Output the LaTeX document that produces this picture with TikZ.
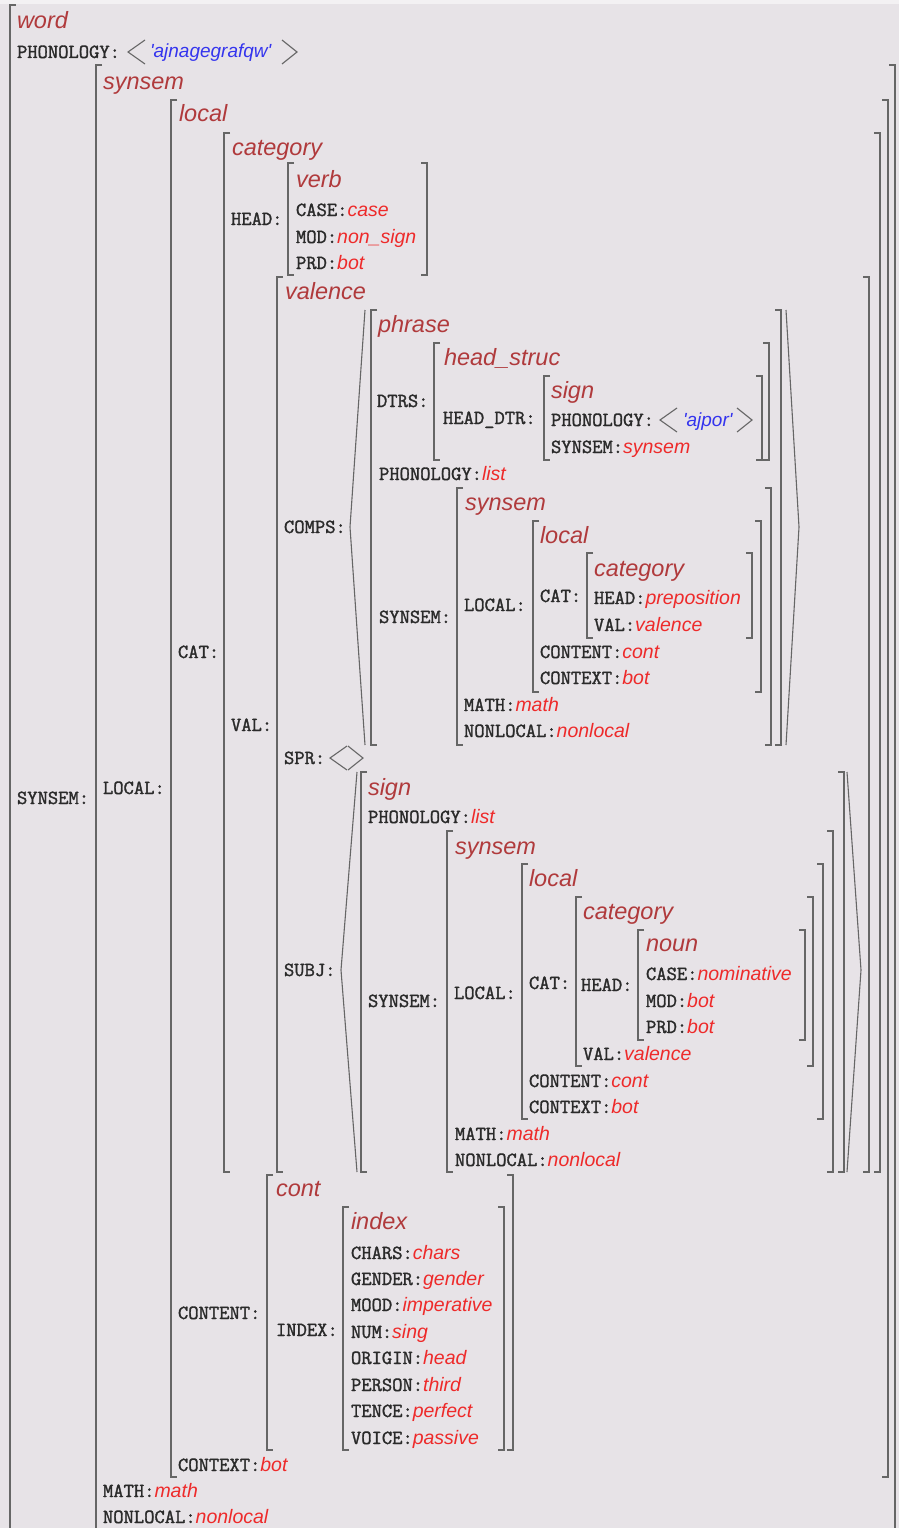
\documentclass[tikz,border=0pt]{standalone}
\usepackage{fontspec}
\newfontfamily\avmono{Latin Modern Mono}[FakeBold=1.6]
\newfontfamily\avsans{Liberation Sans}
\definecolor{bgc}{HTML}{E7E3E7}
\definecolor{topc}{HTML}{F3F1F3}
\definecolor{labc}{HTML}{2A2A2A}
\definecolor{typc}{HTML}{B03A3C}
\definecolor{valc}{HTML}{EE2A2A}
\definecolor{strc}{HTML}{3434EE}
\definecolor{brc}{HTML}{666666}
\newcommand\avlab[1]{{\avmono\bfseries\fontsize{20}{22}\selectfont\color{labc}#1}}
\newcommand\avtyp[1]{{\avsans\itshape\fontsize{23.5}{26}\selectfont\color{typc}#1}}
\newcommand\avval[1]{{\avsans\itshape\fontsize{19.5}{22}\selectfont\color{valc}#1}}
\newcommand\avstr[1]{{\avsans\itshape\fontsize{19}{22}\selectfont\color{strc}#1}}
\tikzset{
  row/.style={anchor=base west,inner sep=0pt,outer sep=0pt},
  brk/.style={draw=brc,line width=1.6pt},
  ang/.style={draw=brc,line width=1.1pt,line join=miter}
}
\newcommand\lbr[3]{\draw[brk] (#1+6,#2)--(#1,#2)--(#1,#3)--(#1+6,#3);}
\newcommand\rbr[3]{\draw[brk] (#1-6,#2)--(#1,#2)--(#1,#3)--(#1-6,#3);}
\newcommand\langl[3]{\draw[ang] (#1+17,#2-12)--(#1,#2)--(#1+17,#2+12);}
\newcommand\rangl[3]{\draw[ang] (#1,#2-12)--(#1+15,#2)--(#1,#2+12);}
\begin{document}
\begin{tikzpicture}[x=1pt,y=-1pt]
\fill[bgc] (0,0) rectangle (899,1528);
\fill[topc] (0,0) rectangle (899,4);
\useasboundingbox (0,0) rectangle (899,1528);

% ---------- brackets ----------
\draw[brk] (16,5)--(10,5)--(10,1528);           % word
\draw[brk] (102,65)--(96,65)--(96,1528);        % synsem
\draw[brk] (889,65)--(895,65)--(895,1528);
\lbr{171}{100}{1477} \rbr{888}{100}{1477}       % local
\lbr{224}{133}{1172} \rbr{880}{133}{1172}       % category
\lbr{288}{163}{275}  \rbr{427}{163}{275}        % verb
\lbr{277}{277}{1172} \rbr{869}{277}{1172}       % valence
% COMPS list
\draw[ang] (365,310)--(350,527)--(365,745);
\draw[ang] (786,310)--(799,527)--(786,745);
\lbr{371}{310}{745} \rbr{781}{310}{745}         % phrase
\lbr{434}{343}{460} \rbr{769}{343}{460}         % head_struc
\lbr{544}{376}{460} \rbr{762}{376}{460}         % sign
\lbr{457}{488}{745} \rbr{771}{488}{745}         % synsem
\lbr{533}{521}{692} \rbr{761}{521}{692}         % local
\lbr{587}{553}{638} \rbr{752}{553}{638}         % category
% SUBJ list
\draw[ang] (357,772)--(341,970)--(357,1172);
\draw[ang] (847,772)--(861,970)--(847,1172);
\lbr{361}{772}{1172} \rbr{844}{772}{1172}       % sign
\lbr{447}{831}{1172} \rbr{833}{831}{1172}       % synsem
\lbr{522}{864}{1119} \rbr{823}{864}{1119}       % local
\lbr{576}{897}{1066} \rbr{813}{897}{1066}       % category
\lbr{638}{930}{1040} \rbr{805}{930}{1040}       % noun
\lbr{267}{1175}{1450} \rbr{513}{1175}{1450}     % cont
\lbr{343}{1207}{1450} \rbr{504}{1207}{1450}     % index

% ---------- word ----------
\node[row] (word) at (17,29) {\avtyp{word}};
\node[row] (phon0) at (17,58) {\avlab{PHONOLOGY:}};
\langl{128}{52}{}
\node[row] (str0) at (150,58) {\avstr{'ajnagegrafqw'}};
\rangl{282}{52}{}
\node[row] (synsemL) at (17,804) {\avlab{SYNSEM:}};

% ---------- synsem ----------
\node[row] (synsem0) at (103,89) {\avtyp{synsem}};
\node[row] (localL) at (103,794) {\avlab{LOCAL:}};
\node[row] (math0) at (103,1497) {\avlab{MATH:}\avval{math}};
\node[row] (nonloc0) at (103,1523) {\avlab{NONLOCAL:}\avval{nonlocal}};

% ---------- local ----------
\node[row] (local0) at (179,121) {\avtyp{local}};
\node[row] (catL) at (178,658) {\avlab{CAT:}};
\node[row] (contentL) at (178,1319) {\avlab{CONTENT:}};
\node[row] (context0) at (178,1471) {\avlab{CONTEXT:}\avval{bot}};

% ---------- category ----------
\node[row] (cat0) at (232,155) {\avtyp{category}};
\node[row] (headL) at (231,225) {\avlab{HEAD:}};
\node[row] (valL) at (231,731) {\avlab{VAL:}};

\node[row] (verb) at (296,187) {\avtyp{verb}};
\node[row] (case0) at (296,216) {\avlab{CASE:}\avval{case}};
\node[row] (mod0) at (296,243) {\avlab{MOD:}\avval{non\_sign}};
\node[row] (prd0) at (296,269) {\avlab{PRD:}\avval{bot}};

% ---------- valence ----------
\node[row] (val0) at (285,299) {\avtyp{valence}};
\node[row] (compsL) at (284,533) {\avlab{COMPS:}};
\node[row] (sprL) at (284,764) {\avlab{SPR:}};
\langl{330}{758}{}
\rangl{348}{758}{}
\node[row] (subjL) at (284,976) {\avlab{SUBJ:}};

% COMPS element
\node[row] (phrase) at (378,332) {\avtyp{phrase}};
\node[row] (dtrsL) at (377,407) {\avlab{DTRS:}};
\node[row] (hstruc) at (444,365) {\avtyp{head\_struc}};
\node[row] (hdtrL) at (443,424) {\avlab{HEAD\_DTR:}};
\node[row] (sign1) at (551,398) {\avtyp{sign}};
\node[row] (phon1) at (551,426) {\avlab{PHONOLOGY:}};
\langl{660}{420}{}
\node[row] (str1) at (683,426) {\avstr{'ajpor'}};
\rangl{737}{420}{}
\node[row] (syn1) at (551,453) {\avlab{SYNSEM:}\avval{synsem}};
\node[row] (phon2) at (379,480) {\avlab{PHONOLOGY:}\avval{list}};
\node[row] (synsemL1) at (379,623) {\avlab{SYNSEM:}};
\node[row] (synsem1) at (465,510) {\avtyp{synsem}};
\node[row] (localL1) at (464,611) {\avlab{LOCAL:}};
\node[row] (local1) at (540,543) {\avtyp{local}};
\node[row] (catL1) at (540,602) {\avlab{CAT:}};
\node[row] (cat1) at (594,576) {\avtyp{category}};
\node[row] (head1) at (594,604) {\avlab{HEAD:}\avval{preposition}};
\node[row] (val1) at (594,631) {\avlab{VAL:}\avval{valence}};
\node[row] (content1) at (540,658) {\avlab{CONTENT:}\avval{cont}};
\node[row] (context1) at (540,684) {\avlab{CONTEXT:}\avval{bot}};
\node[row] (math1) at (464,711) {\avlab{MATH:}\avval{math}};
\node[row] (nonloc1) at (464,737) {\avlab{NONLOCAL:}\avval{nonlocal}};

% SUBJ element
\node[row] (sign2) at (368,795) {\avtyp{sign}};
\node[row] (phon3) at (368,823) {\avlab{PHONOLOGY:}\avval{list}};
\node[row] (synsemL2) at (368,1007) {\avlab{SYNSEM:}};
\node[row] (synsem2) at (455,854) {\avtyp{synsem}};
\node[row] (localL2) at (454,999) {\avlab{LOCAL:}};
\node[row] (local2) at (529,886) {\avtyp{local}};
\node[row] (catL2) at (529,989) {\avlab{CAT:}};
\node[row] (cat2) at (583,919) {\avtyp{category}};
\node[row] (headL2) at (581,991) {\avlab{HEAD:}};
\node[row] (noun) at (646,951) {\avtyp{noun}};
\node[row] (case2) at (646,980) {\avlab{CASE:}\avval{nominative}};
\node[row] (mod2) at (646,1007) {\avlab{MOD:}\avval{bot}};
\node[row] (prd2) at (646,1033) {\avlab{PRD:}\avval{bot}};
\node[row] (val2) at (583,1060) {\avlab{VAL:}\avval{valence}};
\node[row] (content2) at (529,1087) {\avlab{CONTENT:}\avval{cont}};
\node[row] (context2) at (529,1113) {\avlab{CONTEXT:}\avval{bot}};
\node[row] (math2) at (455,1140) {\avlab{MATH:}\avval{math}};
\node[row] (nonloc2) at (455,1166) {\avlab{NONLOCAL:}\avval{nonlocal}};

% ---------- content ----------
\node[row] (cont) at (276,1196) {\avtyp{cont}};
\node[row] (indexL) at (276,1336) {\avlab{INDEX:}};
\node[row] (index) at (351,1229) {\avtyp{index}};
\node[row] (chars) at (351,1259) {\avlab{CHARS:}\avval{chars}};
\node[row] (gender) at (351,1285) {\avlab{GENDER:}\avval{gender}};
\node[row] (mood) at (351,1311) {\avlab{MOOD:}\avval{imperative}};
\node[row] (num) at (351,1338) {\avlab{NUM:}\avval{sing}};
\node[row] (origin) at (351,1364) {\avlab{ORIGIN:}\avval{head}};
\node[row] (person) at (351,1391) {\avlab{PERSON:}\avval{third}};
\node[row] (tence) at (351,1417) {\avlab{TENCE:}\avval{perfect}};
\node[row] (voice) at (351,1444) {\avlab{VOICE:}\avval{passive}};
\end{tikzpicture}
\end{document}
